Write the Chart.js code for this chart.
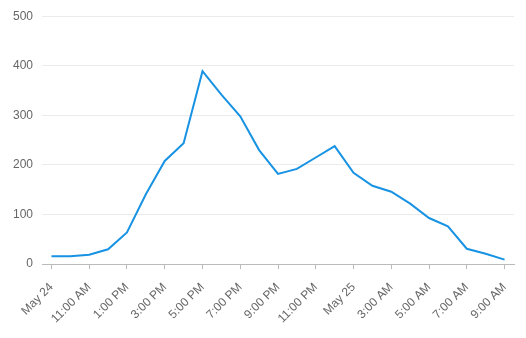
<!DOCTYPE html>
<html>
<head>
<meta charset="utf-8">
<script src="https://cdn.jsdelivr.net/npm/chart.js@4.4.0/dist/chart.umd.min.js"></script>
<style>
  html, body { margin: 0; padding: 0; background: #fff; }
  #wrap { width: 526px; height: 338px; }
</style>
</head>
<body>
<div id="wrap"><canvas id="chartPic" width="526" height="338"></canvas></div>
<script>
// hourly, May 24 9:00 AM -> May 25 9:00 AM
var hours = [
    "May 24", "10:00 AM", "11:00 AM", "12:00 PM", "1:00 PM", "2:00 PM", "3:00 PM", "4:00 PM",
    "5:00 PM", "6:00 PM", "7:00 PM", "8:00 PM", "9:00 PM", "10:00 PM", "11:00 PM", "12:00 AM",
    "May 25", "2:00 AM", "3:00 AM", "4:00 AM", "5:00 AM", "6:00 AM", "7:00 AM", "8:00 AM", "9:00 AM"
];

var counts = [
    16, 16, 19, 30, 64, 141, 208, 244, 389, 342, 298, 230, 182,
    192, 215, 238, 184, 158, 146, 122, 93, 76, 31, 21, 9
];

var yMin = 0;
var yMax = 500;
var yStep = 100;

var ctx = document.getElementById("chartPic");
var myChart = new Chart(ctx, {
    type: 'line',
    data: {
        labels: hours,
        datasets: [
            {
                label: 'Count',
                data: counts,
                borderColor: '#1893e3',
                backgroundColor: '#1893e3',
                borderWidth: 2,
                tension: 0,
                fill: false
            }
        ]
    },
    options: {
        responsive: false,
        animation: false,
        layout: {
            padding: { top: 9, right: 12, left: 4, bottom: 1 }
        },
        scales: {
            y: {
                min: yMin,
                max: yMax,
                ticks: {
                    stepSize: yStep,
                    color: '#666',
                    font: { size: 12, family: "'Liberation Sans', Arial, sans-serif" },
                    padding: 9
                },
                grid: {
                    color: '#ebebeb',
                    drawTicks: false
                },
                border: { display: false }
            },
            x: {
                offset: true,
                ticks: {
                    autoSkip: false,
                    maxRotation: 45,
                    minRotation: 45,
                    padding: 11,
                    color: '#666',
                    font: { size: 12, family: "'Liberation Sans', Arial, sans-serif" },
                    callback: function (value, index) {
                        // label every second hour
                        return index % 2 === 0 ? hours[index] : null;
                    }
                },
                grid: {
                    drawOnChartArea: false,
                    color: '#bbb',
                    tickLength: 5,
                    offset: false
                },
                border: { display: true, color: '#bbb' }
            }
        },
        elements: {
            point: { radius: 0 }
        },
        plugins: {
            legend: { display: false },
            tooltip: { enabled: false }
        }
    }
});
</script>
</body>
</html>
